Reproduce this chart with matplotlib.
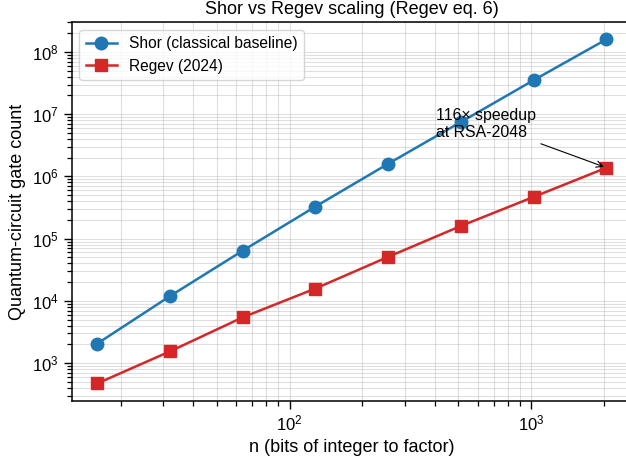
import numpy as np
import matplotlib
matplotlib.use("Agg")
import matplotlib.pyplot as plt

plt.rcParams["font.family"] = ["Liberation Sans", "DejaVu Sans"]

# bits of the integer being factored
n_bits = [16, 32, 64, 128, 256, 512, 1024, 2048]
# gate counts
shor_gates = [2050, 11900, 64000, 328000, 1.6e6, 7.5e6, 3.53e7, 1.6e8]
regev_gates = [470, 1540, 5430, 15800, 51000, 160000, 469000, 1.38e6]

speedup = shor_gates[-1] / regev_gates[-1]

fig = plt.figure(figsize=(6.26, 4.68), dpi=100)
ax = fig.add_axes([0.1145, 0.1438, 0.895, 0.809])

ax.plot(n_bits, shor_gates, "o-", color="#1f77b4", lw=1.8, ms=9,
        label="Shor (classical baseline)")
ax.plot(n_bits, regev_gates, "s-", color="#d62728", lw=1.8, ms=9,
        label="Regev (2024)")
ax.set_xscale("log")
ax.set_yscale("log")
ax.grid(True, which="both", color="#b0b0b0", alpha=0.4, lw=0.8)

ax.annotate(f"{speedup:.0f}\u00d7 speedup\nat RSA-2048",
            xy=(n_bits[-1], regev_gates[-1]), xytext=(405, 4.3e6),
            fontsize=11.4, arrowprops=dict(arrowstyle="->", color="black", lw=0.8))

ax.set_xlabel("n (bits of integer to factor)", fontsize=13)
ax.set_ylabel("Quantum-circuit gate count", fontsize=13)
ax.set_title("Shor vs Regev scaling (Regev eq. 6)", fontsize=13)
ax.tick_params(labelsize=12)
ax.tick_params(which="major", length=6, width=1)
ax.tick_params(which="minor", length=3.5, width=0.9)
for sp in ax.spines.values():
    sp.set_linewidth(1.1)
ax.legend(loc="upper left", fontsize=11.2)

fig.savefig("out.png", dpi=100)
